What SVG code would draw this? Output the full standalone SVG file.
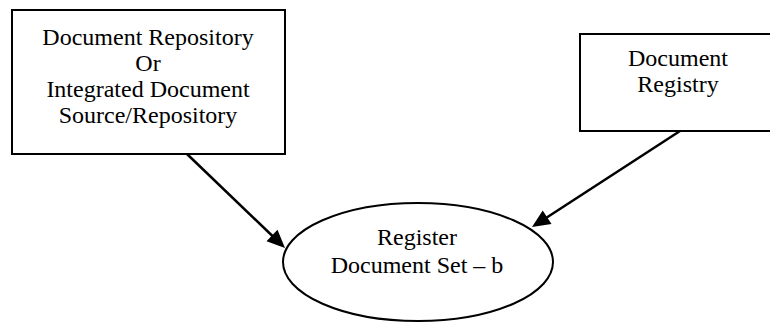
<svg xmlns="http://www.w3.org/2000/svg" width="770" height="322" viewBox="0 0 770 322">
<style>
.box{fill:#fff;stroke:#000;stroke-width:2}
.t{font-family:"Liberation Serif","Times New Roman",serif;font-size:24px;fill:#000;text-anchor:middle}
.c{stroke:#000;stroke-width:2.5;fill:none}
.ah{fill:#000;stroke:none}
</style>
<rect width="770" height="322" fill="#fff"/>
<g id="connectors">
<line class="c" x1="187" y1="154" x2="273" y2="236.5"/>
<polygon class="ah" points="285,248 266.5,241.3 277.5,229.7"/>
<line class="c" x1="680" y1="131" x2="546" y2="218"/>
<polygon class="ah" points="532,227 542.7,210.5 551.5,223.9"/>
</g>
<g id="repository">
<rect class="box" x="12" y="10" width="273" height="144"/>
<text class="t" x="148" y="45">Document Repository</text>
<text class="t" x="148" y="71">Or</text>
<text class="t" x="148" y="97">Integrated Document</text>
<text class="t" x="148" y="123">Source/Repository</text>
</g>
<g id="registry">
<rect class="box" x="580" y="34" width="200" height="97"/>
<text class="t" x="678" y="66">Document</text>
<text class="t" x="678" y="92">Registry</text>
</g>
<g id="register">
<ellipse class="box" cx="418" cy="262" rx="135" ry="59"/>
<text class="t" x="417" y="245">Register</text>
<text class="t" x="417" y="273">Document Set – b</text>
</g>
</svg>
